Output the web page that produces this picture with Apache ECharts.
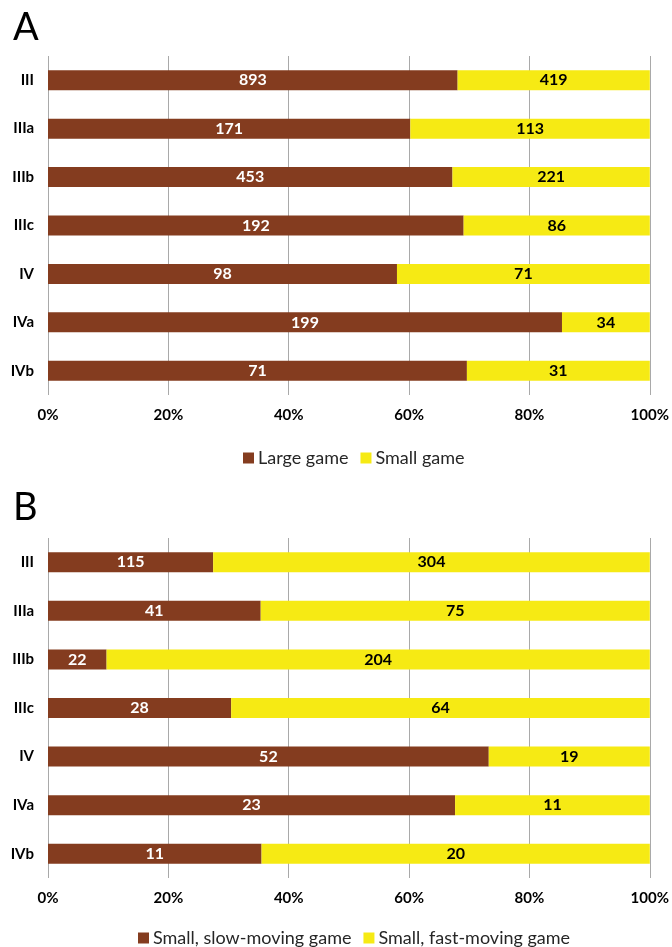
<!DOCTYPE html>
<html>
<head>
<meta charset="utf-8">
<script src="https://cdn.jsdelivr.net/npm/echarts@6/dist/echarts.min.js"></script>
<style>
  html, body { margin: 0; padding: 0; background: #fff; }
  #chart { width: 672px; height: 947px; }
</style>
</head>
<body>
<div id="chart"></div>
<script>
const categories = ['III', 'IIIa', 'IIIb', 'IIIc', 'IV', 'IVa', 'IVb'];

// panel A counts
const largeGame = [893, 171, 453, 192, 98, 199, 71];
const smallGame = [419, 113, 221, 86, 71, 34, 31];

// panel B counts
const slowGame = [115, 41, 22, 28, 52, 23, 11];
const fastGame = [304, 75, 204, 64, 19, 11, 20];

const tickValues = [0, 20, 40, 60, 80, 100];

const BROWN = '#843c1f';
const YELLOW = '#f6ea14';
const GRID = '#a9a9a9';
const FONT = 'Lato, "Open Sans", sans-serif';

// share of each count in its row, in percent
function share(a, b) {
  return a.map((v, i) => (v / (v + b[i])) * 100);
}

const chart = echarts.init(document.getElementById('chart'));

function xAxisFor(gridIndex) {
  return {
    type: 'value',
    gridIndex: gridIndex,
    min: tickValues[0],
    max: tickValues[tickValues.length - 1],
    interval: 20,
    axisLine: { show: false },
    axisTick: { show: false },
    splitLine: { lineStyle: { color: GRID, width: 1 } },
    axisLabel: {
      formatter: '{value}%',
      margin: 13,
      color: '#000',
      fontFamily: FONT,
      fontWeight: 'bold',
      fontSize: 15
    }
  };
}

function yAxisFor(gridIndex) {
  return {
    type: 'category',
    gridIndex: gridIndex,
    data: categories,
    inverse: true,
    axisLine: { show: false },
    axisTick: { show: false },
    axisLabel: {
      margin: 14,
      color: '#000',
      fontFamily: FONT,
      fontWeight: 'bold',
      fontSize: 15
    }
  };
}

function barSeries(name, counts, other, axisIndex, color, labelColor) {
  return {
    name: name,
    type: 'bar',
    stack: 'p' + axisIndex,
    xAxisIndex: axisIndex,
    yAxisIndex: axisIndex,
    barWidth: 20,
    itemStyle: { color: color },
    label: {
      show: true,
      position: 'inside',
      color: labelColor,
      fontFamily: FONT,
      fontWeight: 'bold',
      fontSize: 16,
      formatter: (p) => String(counts[p.dataIndex])
    },
    data: share(counts, other)
  };
}

const legendText = { fontFamily: FONT, fontSize: 18, color: '#262626', padding: [0, 0, 0, -1] };

const option = {
  backgroundColor: '#fff',
  animation: false,
  title: [
    { text: 'A', left: 8, top: 4, textStyle: { fontSize: 38, fontWeight: 'normal', color: '#000', fontFamily: FONT } },
    { text: 'B', left: 8, top: 484, textStyle: { fontSize: 38, fontWeight: 'normal', color: '#000', fontFamily: FONT } }
  ],
  grid: [
    { left: 48, width: 603, top: 56, height: 339 },
    { left: 48, width: 603, top: 538, height: 340 }
  ],
  xAxis: [xAxisFor(0), xAxisFor(1)],
  yAxis: [yAxisFor(0), yAxisFor(1)],
  legend: [
    {
      data: ['Large game', 'Small game'],
      left: 238,
      top: 444,
      icon: 'rect',
      itemWidth: 11,
      itemHeight: 11,
      itemGap: 12,
      textStyle: legendText
    },
    {
      data: ['Small, slow-moving game', 'Small, fast-moving game'],
      left: 133,
      top: 924,
      icon: 'rect',
      itemWidth: 11,
      itemHeight: 11,
      itemGap: 12,
      textStyle: legendText
    }
  ],
  series: [
    barSeries('Large game', largeGame, smallGame, 0, BROWN, '#fff'),
    barSeries('Small game', smallGame, largeGame, 0, YELLOW, '#000'),
    barSeries('Small, slow-moving game', slowGame, fastGame, 1, BROWN, '#fff'),
    barSeries('Small, fast-moving game', fastGame, slowGame, 1, YELLOW, '#000')
  ]
};

chart.setOption(option);
</script>
</body>
</html>
